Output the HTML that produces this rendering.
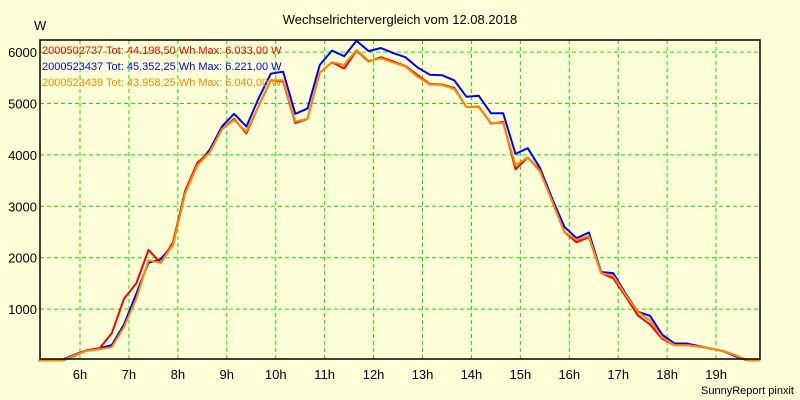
<!DOCTYPE html>
<html><head><meta charset="utf-8">
<style>
body{margin:0;background:#ffffd8;}
svg{display:block;font-family:"Liberation Sans",sans-serif;}
</style></head>
<body>
<svg id="chart" width="800" height="400" viewBox="0 0 800 400">
<rect x="0" y="0" width="800" height="400" fill="#ffffd8"/>
<text x="400" y="24" text-anchor="middle" font-size="13" fill="#000">Wechselrichtervergleich vom 12.08.2018</text>
<text x="34" y="30" font-size="13" fill="#000">W</text>
<g id="grid"></g>
<g id="series"></g>
<g id="axes"></g>
<g id="legend"></g>
<text x="794" y="394" text-anchor="end" font-size="11" fill="#000">SunnyReport pinxit</text>
</svg>
<script>
const times=[5.15,5.4,5.65,5.9,6.15,6.4,6.65,6.9,7.15,7.4,7.65,7.9,8.15,8.4,8.65,8.9,9.15,9.4,9.65,9.9,10.15,10.4,10.65,10.9,11.15,11.4,11.65,11.9,12.15,12.4,12.65,12.9,13.15,13.4,13.65,13.9,14.15,14.4,14.65,14.9,15.15,15.4,15.65,15.9,16.15,16.4,16.65,16.9,17.15,17.4,17.65,17.9,18.15,18.4,18.65,18.9,19.15,19.4,19.65,19.9];
const blue=[0,0,20,120,200,240,300,700,1300,1900,1970,2250,3300,3800,4100,4550,4800,4550,5100,5580,5620,4800,4900,5750,6030,5920,6220,6020,6080,5980,5900,5700,5560,5550,5450,5130,5150,4810,4810,4020,4130,3750,3150,2600,2380,2490,1720,1700,1300,950,870,500,330,330,280,230,180,80,0,0];
const red=[0,0,0,100,200,240,530,1200,1500,2150,1900,2300,3300,3850,4050,4500,4700,4420,4950,5450,5430,4620,4700,5600,5800,5680,6030,5820,5900,5820,5730,5550,5380,5370,5300,4930,4940,4610,4640,3720,3950,3700,3100,2500,2300,2400,1700,1600,1250,880,700,420,300,300,270,230,180,100,0,0];
const orange=[0,0,0,110,190,220,260,650,1200,1950,1900,2250,3250,3800,4050,4500,4680,4450,4950,5450,5450,4650,4700,5600,5800,5750,6040,5830,5880,5800,5720,5520,5370,5360,5280,4930,4930,4620,4620,3800,3950,3680,3100,2500,2350,2420,1700,1650,1280,950,780,450,300,300,270,230,180,100,0,0];
const yTicks=[1000,2000,3000,4000,5000,6000];
const xTicks=[6,7,8,9,10,11,12,13,14,15,16,17,18,19];
const names=["2000502737 Tot: 44.198,50 Wh Max: 6.033,00 W","2000523437 Tot: 45.352,25 Wh Max: 6.221,00 W","2000523439 Tot: 43.958,25 Wh Max: 6.040,00 W"];

const NS="http://www.w3.org/2000/svg";
const X0=40,X1=760,Y0=359,YT=40;
function xs(h){return 80+(h-6)*48.93;}
function ys(v){return 360.5-v*0.0514;}
function mk(tag,attrs,parent){const e=document.createElementNS(NS,tag);for(const k in attrs)e.setAttribute(k,attrs[k]);parent.appendChild(e);return e;}
const grid=document.getElementById('grid'),axes=document.getElementById('axes'),ser=document.getElementById('series'),leg=document.getElementById('legend');
yTicks.forEach(v=>{
  const l=mk('line',{x1:X0,x2:X1,y1:ys(v),y2:ys(v),stroke:'#00ee00','stroke-dasharray':'4,3'},grid);
  
  
  const t=mk('text',{x:X0-3,y:ys(v)+5,'text-anchor':'end','font-size':13,fill:'#000'},axes);
  t.textContent=v;
  
  
});
xTicks.forEach(h=>{
  const l=mk('line',{x1:xs(h),x2:xs(h),y1:YT,y2:Y0,stroke:'#00ee00','stroke-dasharray':'4,3'},grid);
  
  
  const t=mk('text',{x:xs(h),y:Y0+20,'text-anchor':'middle','font-size':13,fill:'#000'},axes);
  t.textContent=h+'h';
  
  
});
const frame=mk('path',{d:`M${X0},${YT}H${X1}V${Y0}H${X0}Z`,fill:'none',stroke:'#000','stroke-width':1.5},axes);


const series=[[red,'#ff0000','series-2000502737'],[blue,'#0000ff','series-2000523437'],[orange,'#ff8800','series-2000523439']];
const order=[1,0,2];
order.forEach(i=>{
  const [d,c,n]=series[i];
  const p=mk('polyline',{points:d.map((v,k)=>xs(times[k]).toFixed(1)+','+ys(v).toFixed(1)).join(' '),fill:'none',stroke:c,'stroke-width':2,'stroke-linejoin':'round'},ser);
  
  
});
names.forEach((s,i)=>{
  const t=mk('text',{x:42,y:54+i*16,'font-size':11,fill:series[i][1]},leg);
  t.textContent=s;
  
  
});
</script>
</body></html>
